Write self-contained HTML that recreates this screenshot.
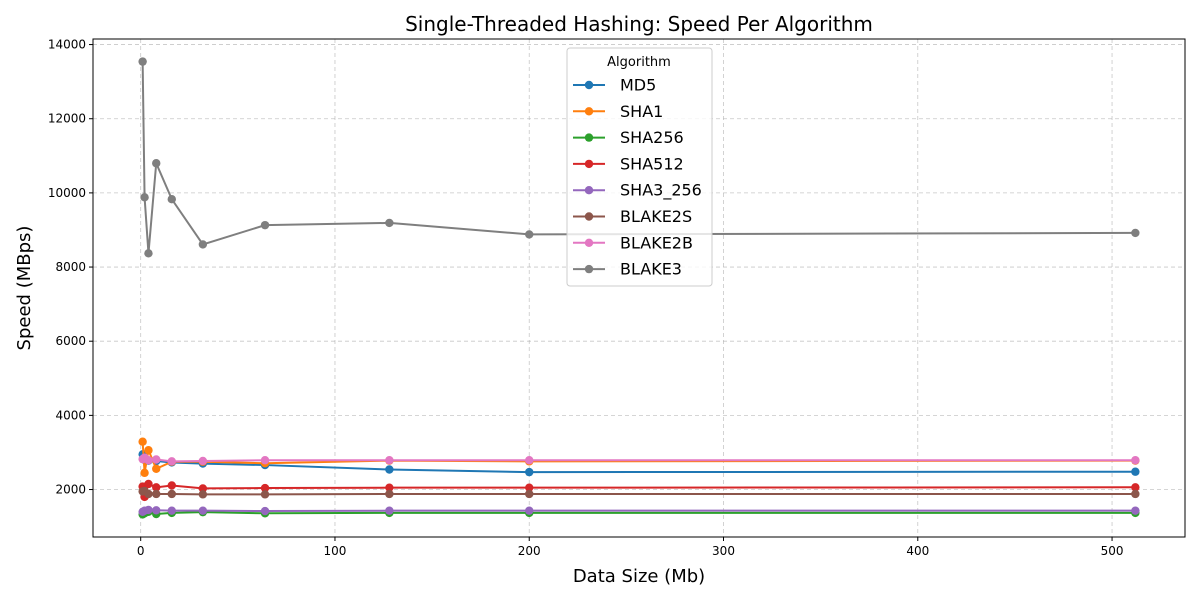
<!DOCTYPE html>
<html><head><meta charset="utf-8"><style>
body{margin:0;background:#fff;font-family:"Liberation Sans","DejaVu Sans",sans-serif}
svg text{font-family:"DejaVu Sans","Liberation Sans",sans-serif}
</style></head><body>
<svg id="c" width="1200" height="600" xmlns="http://www.w3.org/2000/svg"></svg>
<script>
const sizes=[1,2,4,8,16,32,64,128,200,512];
const seriesNames=["MD5","SHA1","SHA256","SHA512","SHA3_256","BLAKE2S","BLAKE2B","BLAKE3"];
const colors=["#1f77b4","#ff7f0e","#2ca02c","#d62728","#9467bd","#8c564b","#e377c2","#7f7f7f"];
const md5=[2950,2800,2780,2770,2730,2700,2660,2540,2470,2480];
const sha1=[3290,2450,3060,2560,2750,2750,2710,2780,2760,2780];
const sha256=[1330,1360,1400,1340,1370,1390,1360,1370,1370,1370];
const sha512=[2080,1800,2150,2060,2110,2030,2040,2050,2050,2060];
const sha3=[1400,1430,1450,1440,1430,1430,1420,1430,1430,1430];
const blake2s=[1950,1960,1880,1880,1880,1870,1870,1880,1880,1880];
const blake2b=[2820,2860,2790,2810,2760,2770,2790,2790,2790,2790];
const blake3=[13540,9880,8370,10800,9830,8610,9130,9190,8880,8920];
const xTicks=[0,100,200,300,400,500];
const yTicks=[2000,4000,6000,8000,10000,12000,14000];
const allSeries=[md5,sha1,sha256,sha512,sha3,blake2s,blake2b,blake3];

const L=93,R=1185,T=39,B=537;
const xmin=-24.55,xmax=537.55,ymin=720,ymax=14150;
const X=v=>L+(v-xmin)/(xmax-xmin)*(R-L);
const Y=v=>B-(v-ymin)/(ymax-ymin)*(B-T);
const svg=document.getElementById('c');
const NS="http://www.w3.org/2000/svg";
function mk(tag,attrs,parent){const e=document.createElementNS(NS,tag);for(const k in attrs)e.setAttribute(k,attrs[k]);(parent||svg).appendChild(e);return e;}

const grid=mk('g',{});


xTicks.forEach(t=>{mk('line',{x1:X(t),x2:X(t),y1:T,y2:B,stroke:'#b0b0b0','stroke-width':0.8,'stroke-dasharray':'4,3',opacity:0.7},grid);});
yTicks.forEach(t=>{mk('line',{x1:L,x2:R,y1:Y(t),y2:Y(t),stroke:'#b0b0b0','stroke-width':0.8,'stroke-dasharray':'4,3',opacity:0.7},grid);});

const xa=mk('g',{});


xTicks.forEach(t=>{mk('line',{x1:X(t),x2:X(t),y1:B,y2:B+4,stroke:'#000'},xa);const tx=mk('text',{x:X(t),y:B+18,'text-anchor':'middle','font-size':12},xa);tx.textContent=t;});
const ya=mk('g',{});


yTicks.forEach(t=>{mk('line',{x1:L-4,x2:L,y1:Y(t),y2:Y(t),stroke:'#000'},ya);const tx=mk('text',{x:L-7,y:Y(t)+4,'text-anchor':'end','font-size':12},ya);tx.textContent=t;});

allSeries.forEach((s,i)=>{
  const g=mk('g',{});
  
  
  mk('polyline',{points:s.map((v,j)=>X(sizes[j])+','+Y(v)).join(' '),fill:'none',stroke:colors[i],'stroke-width':2},g);
  s.forEach((v,j)=>{const c=mk('circle',{cx:X(sizes[j]),cy:Y(v),r:4.2,fill:colors[i]},g);
    
    });
});

mk('rect',{x:L,y:T,width:R-L,height:B-T,fill:'none',stroke:'#000','stroke-width':1});

const title=mk('text',{x:(L+R)/2,y:31,'text-anchor':'middle','font-size':20});
title.textContent='Single-Threaded Hashing: Speed Per Algorithm';


const xt=mk('text',{x:(L+R)/2,y:582,'text-anchor':'middle','font-size':18});
xt.textContent='Data Size (Mb)';


const yt=mk('text',{x:30,y:(T+B)/2,'text-anchor':'middle','font-size':18,transform:'rotate(-90 30 '+((T+B)/2)+')'});
yt.textContent='Speed (MBps)';



const lg=mk('g',{});


mk('rect',{x:567,y:48,width:145,height:238,rx:3,fill:'#fff','fill-opacity':0.8,stroke:'#ccc'},lg);
const lt=mk('text',{x:639,y:66,'text-anchor':'middle','font-size':13},lg);lt.textContent='Algorithm';
seriesNames.forEach((n,i)=>{
  const e=mk('g',{},lg);
  
  
  const y=85+i*26.3;
  mk('line',{x1:573,x2:605,y1:y,y2:y,stroke:colors[i],'stroke-width':2},e);
  mk('circle',{cx:589,cy:y,r:4.2,fill:colors[i]},e);
  const t=mk('text',{x:620,y:y+5.5,'font-size':16},e);t.textContent=n;
});
</script>
</body></html>
